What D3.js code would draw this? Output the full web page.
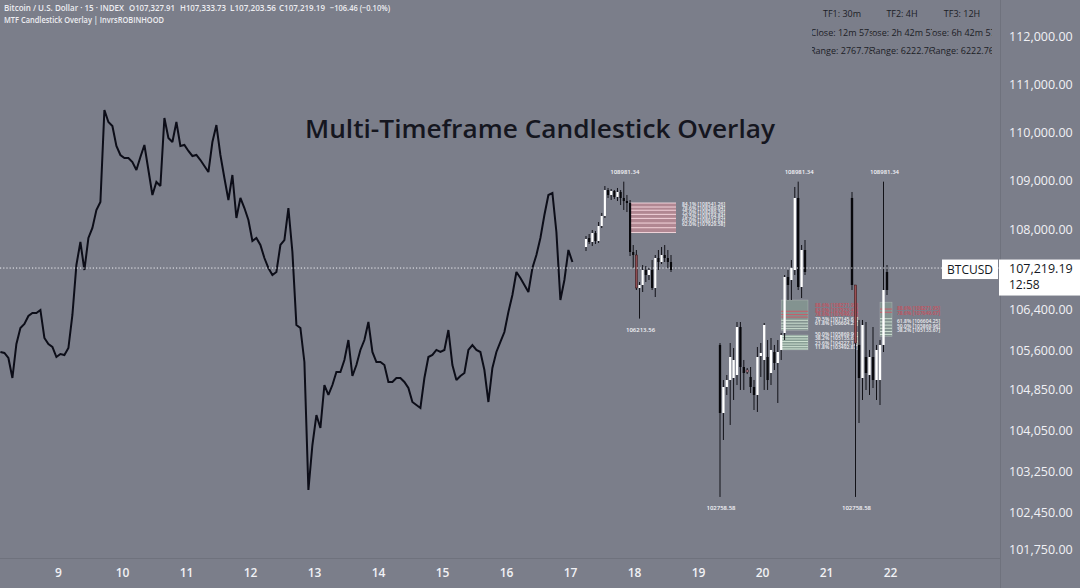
<!DOCTYPE html>
<html><head><meta charset="utf-8">
<script src="https://cdn.jsdelivr.net/npm/d3@7/dist/d3.min.js"></script>
<style>html,body{margin:0;padding:0;background:#7b7e8a;overflow:hidden}svg{display:block}</style>
</head><body><svg id="c" width="1080" height="588"></svg>
<script>
// ---------------- DATA ----------------
const dayTicks = [9,10,11,12,13,14,15,16,17,18,19,20,21,22];
const priceTicks = [112000,111000,110000,109000,108000,106400,105600,104850,104050,103250,102450,101750];
const lastPrice = 107219.19;
const symbol = "BTCUSD";
const countdown = "12:58";
const headerTitle = "Bitcoin / U.S. Dollar · 15 · INDEX";
const headerIndicator = "MTF Candlestick Overlay | InvrsROBINHOOD";
const ohlcLetters = ["O","H","L","C"];
const ohlcValues = [107327.91,107333.73,107203.56,107219.19];
const changeText = "−106.46 (−0.10%)";
const chartTitle = "Multi-Timeframe Candlestick Overlay";

// main 15m series, sampled every 1.5 h starting at day 8.1
const mainStartDay = 8.1, mainStepHours = 1.5;
const mainClose = [105567,105548,105451,105063,105722,106032,106109,106264,106322,106322,
106381,105838,105722,105664,105470,105528,105509,105644,106284,107280,
107740,107180,107820,108021,108394,108560,110466,110218,110135,109720,
109534,109472,109472,109389,109223,109492,109741,109223,108705,108974,
108891,110301,109886,109803,110218,109720,109741,109617,109513,109534,
109430,109306,109181,109803,110155,109534,109057,108601,109119,108228,
108643,108435,108187,107760,107820,107680,107420,107220,107080,107140,
107680,107780,108435,107540,106090,106032,105373,102893,103765,104346,
104094,104927,104734,104927,105179,105179,105412,105799,105102,105315,
105606,105799,106148,105567,105373,105373,105315,104986,104986,105063,
105063,104986,104869,104598,104540,104482,105063,105470,105509,105606,
105567,105606,105993,105315,105024,105102,105160,105606,105702,105606,
105567,105218,104598,105257,105567,105761,105954,106342,106680,107140,
107020,106880,106740,107220,107480,107820,108290,108705,108746,107940,
106580,106980,107580,107340];

// TF1 (30m) overlay candles
const tf1Open  = [107640,107820,107740,107920,107760,108062,108270,108808,108705,108788,108664,108767,108643,108580,108539,107540,107480,106820,106880,107180,107080,107180,106820,107420,107340,107480,107420,107340];
const tf1High  = [107860,107900,107980,107960,108145,108332,108891,108850,108829,108808,108850,108808,108981.34,108705,108601,107680,107580,106940,107280,107260,107220,107380,107480,107580,107640,107680,107580,107480];
const tf1Low   = [107560,107700,107660,107700,107720,108021,108228,108643,108601,108622,108580,108497,108394,108352,107460,107220,106780,106213.56,106740,106940,106980,106780,106640,107180,107300,107340,107220,107140];
const tf1Close = [107800,107740,107920,107760,108062,108270,108808,108705,108788,108664,108767,108643,108580,108539,107540,107480,106820,106880,107180,107080,107180,106820,107420,107340,107480,107420,107340,107180];

// TF2 (4H) overlay candles
const tf2Open  = [105703,104385,104889,105024,105063,105121,106051,105276,105218,105083,104889,104734,105489,105412,105470,105160,105567,105354,105606,105935,107040,106980,107180,108643,106840,107580];
const tf2High  = [105741,105024,105121,105741,105644,106148,106148,105412,105257,105276,105024,105664,105741,106129,105799,105838,105703,105799,105935,107080,107180,107380,108871,108981.34,107680,107780];
const tf2Low   = [102758.58,103862,104734,104153,104637,104927,104831,104831,105140,104772,104443,104405,105083,104831,104831,104927,105218,104579,105412,105799,106580,106580,107080,106780,106620,107080];
const tf2Close = [104385,104889,105024,105470,105412,106051,105276,105160,105179,104889,104734,105470,105548,106090,105024,105606,105354,105567,105896,107040,106880,107220,108643,106840,107580,107140];

// TF3 (12H) overlay candles
const tf3Open  = [108643,106880,105703,105063,105470,105121,105470,105024,105024,105703,107140];
const tf3High  = [108767,106880,106187,106187,106148,105606,106051,105703,105799,108981.34,107280];
const tf3Low   = [106780,102758.58,104191,104637,104831,104734,104869,104637,104540,105567,106680];
const tf3Close = [106880,105741,105063,106090,105160,105470,105024,105606,105703,106780,106780];

// table
const tfNames = ["30m","4H","12H"];
const tfCloseIn = ["12m 57s","2h 42m 57s","6h 42m 57s"];
const tfRange = [2767.78,6222.76,6222.76];

// fib zones (fraction of range above the low)
const tf1BoxLevels = [0.84,0.81,0.786,0.755,0.725,0.69,0.655,0.62];
const tf1LabelLevels = [0.841,0.786,0.75,0.705,0.65,0.62];
const tf2UpperBox = [0.614,0.519];
const tf2LowerBox = [0.504,0.458];
const tf2RedLines = [0.578,0.568,0.56];
const tf2GreenLines = [0.55,0.541,0.532,0.524,0.5,0.492,0.484,0.476,0.468,0.461];
const tf2LabelLevels = [0.886,0.83,0.786,0.705,0.618,0.5,0.382,0.236,0.118];
const tf3Box = [0.607,0.5];
const tf3RedLines = [0.585,0.575];
const tf3GreenLines = [0.555,0.545,0.535,0.525,0.515,0.506];
const tf3LabelLevels = [0.886,0.786,0.618,0.5,0.382];

// ---------------- DRAW ----------------
const svg = d3.select("#c");
const FONT = "'Open Sans','Noto Sans',sans-serif";
const PLOT_R = 1000, PLOT_B = 558;

svg.append("rect").attr("width",1080).attr("height",588).attr("fill","#7b7e8a");

const x = d3.scaleLinear().domain([9,22]).range([58,890]);
const y = d3.scaleLinear().domain([112000,108000,106400,101750]).range([36,229,309,549]);

const plot = svg.append("g");

// main series
const mainPts = mainClose.map((p,i)=>({t: mainStartDay + i*mainStepHours/24, p}));
plot.append("path").datum(mainPts)
  .attr("d", d3.line().x(d=>x(d.t)).y(d=>y(d.p)))
  .attr("fill","none").attr("stroke","#0c0d18").attr("stroke-width",2)
  .attr("stroke-linejoin","miter").attr("stroke-miterlimit",2);

// generic zone drawer
function zone(g, x0, x1, lo, rng, top, bot, fill, stroke){
  g.append("rect").attr("x",x0).attr("y",y(lo+top*rng))
    .attr("width",x1-x0).attr("height",y(lo+bot*rng)-y(lo+top*rng))
    .attr("fill",fill).attr("stroke",stroke||"none").attr("stroke-width",0.6);
}
function zlines(g, x0, x1, lo, rng, levels, color, w){
  g.selectAll(null).data(levels).join("line")
    .attr("x1",x0).attr("x2",x1)
    .attr("y1",d=>y(lo+d*rng)).attr("y2",d=>y(lo+d*rng))
    .attr("stroke",color).attr("stroke-width",w||0.9);
}
function zlabels(g, lx, y0, lo, rng, levels, redCount, gapAfter, gap, step){
  g.selectAll(null).data(levels).join("text")
    .attr("x",lx).attr("y",(d,i)=>y0 + i*step + (gapAfter!=null && i>gapAfter ? gap : 0))
    .attr("font-size",5).attr("font-family",FONT).attr("font-weight",600)
    .attr("fill",(d,i)=> i<redCount ? "#c94f5c" : "#eeeef2")
    .text(d=>`${(d*100).toFixed(1)}% [${(lo+d*rng).toFixed(2)}]`);
}

function candles(g, O,H,L,C, r, highlight, hlColor){
  const n = O.length;
  const xs = d3.scalePoint().domain(d3.range(n)).range(r);
  const bw = Math.max(1.6, xs.step()*0.68);
  g.selectAll(null).data(d3.range(n)).join("line")
    .attr("x1",i=>xs(i)).attr("x2",i=>xs(i))
    .attr("y1",i=>y(H[i])).attr("y2",i=>y(L[i]))
    .attr("stroke","#121218").attr("stroke-width",1);
  g.selectAll(null).data(d3.range(n)).join("rect")
    .attr("x",i=>xs(i)-bw/2).attr("width",bw)
    .attr("y",i=>Math.min(y(O[i]),y(C[i])))
    .attr("height",i=>Math.max(1,Math.abs(y(O[i])-y(C[i]))))
    .attr("fill",i=> highlight.includes(i) ? hlColor : (C[i]>=O[i] ? "#ffffff" : "#08080c"))
    .attr("stroke",i=> highlight.includes(i) ? "#2a1214" : "none").attr("stroke-width",0.5);
  const hi = d3.maxIndex(H), lo = d3.minIndex(L);
  g.append("text").attr("x",xs(hi)+1).attr("y",y(H[hi])-8).attr("text-anchor","middle")
    .attr("font-size",6).attr("font-family",FONT).attr("font-weight",600).attr("fill","#f4f4f8")
    .text(H[hi].toFixed(2));
  g.append("text").attr("x",xs(lo)+1).attr("y",y(L[lo])+13).attr("text-anchor","middle")
    .attr("font-size",6).attr("font-family",FONT).attr("font-weight",600).attr("fill","#f4f4f8")
    .text(L[lo].toFixed(2));
  return xs;
}

// TF1
{
  const g = plot.append("g");
  const r = [586,671];
  const xs = d3.scalePoint().domain(d3.range(tf1Open.length)).range(r);
  const lo = d3.min(tf1Low), rng = d3.max(tf1High)-lo;
  const x0 = xs(14), x1 = r[1]+5;
  zone(g,x0,x1,lo,rng,d3.max(tf1BoxLevels),d3.min(tf1BoxLevels),"rgba(210,140,152,0.62)");
  zlines(g,x0,x1,lo,rng,tf1BoxLevels,"rgba(255,226,232,0.95)",0.9);
  candles(g,tf1Open,tf1High,tf1Low,tf1Close,r,[16],"#8e4b50");
  zlabels(g,x1+6,y(lo+0.84*rng)+3,lo,rng,tf1LabelLevels,0,null,0,4);
}
// TF2
{
  const g = plot.append("g");
  const r = [720,805];
  const xs = d3.scalePoint().domain(d3.range(tf2Open.length)).range(r);
  const lo = d3.min(tf2Low), rng = d3.max(tf2High)-lo;
  const x0 = xs(18), x1 = r[1]+3;
  zone(g,x0,x1,lo,rng,tf2UpperBox[0],tf2UpperBox[1],"rgba(140,168,150,0.5)","rgba(235,240,235,0.35)");
  zone(g,x0,x1,lo,rng,tf2LowerBox[0],tf2LowerBox[1],"rgba(150,190,160,0.5)","rgba(235,240,235,0.35)");
  zlines(g,x0,x1,lo,rng,tf2RedLines,"rgba(214,80,96,0.9)",0.9);
  zlines(g,x0,x1,lo,rng,tf2GreenLines,"rgba(222,240,224,0.9)",0.9);
  candles(g,tf2Open,tf2High,tf2Low,tf2Close,r,[8],"#c48d9c");
  zlabels(g,x1+7,y(lo+tf2UpperBox[0]*rng)+7,lo,rng,tf2LabelLevels,3,4,6,4.5);
}
// TF3
{
  const g = plot.append("g");
  const r = [852,887];
  const xs = d3.scalePoint().domain(d3.range(tf3Open.length)).range(r);
  const lo = d3.min(tf3Low), rng = d3.max(tf3High)-lo;
  const x0 = xs(8), x1 = r[1]+5;
  zone(g,x0,x1,lo,rng,tf3Box[0],tf3Box[1],"rgba(140,168,150,0.5)","rgba(235,240,235,0.35)");
  zlines(g,x0,x1,lo,rng,tf3RedLines,"rgba(214,80,96,0.9)",0.9);
  zlines(g,x0,x1,lo,rng,tf3GreenLines,"rgba(222,240,224,0.9)",0.9);
  candles(g,tf3Open,tf3High,tf3Low,tf3Close,r,[1],"#9c4f53");
  zlabels(g,x1+5,y(lo+tf3Box[0]*rng)+8,lo,rng,tf3LabelLevels,2,1,3,4.8);
}

// current price dotted line
svg.append("line").attr("x1",0).attr("x2",PLOT_R).attr("y1",y(lastPrice)).attr("y2",y(lastPrice))
  .attr("stroke","#f2f2f6").attr("stroke-width",1).attr("stroke-dasharray","1.2,2");

// axis borders
svg.append("line").attr("x1",PLOT_R+0.5).attr("x2",PLOT_R+0.5).attr("y1",0).attr("y2",588)
  .attr("stroke","#6f727d").attr("stroke-width",1);
svg.append("line").attr("x1",0).attr("x2",PLOT_R).attr("y1",PLOT_B+0.5).attr("y2",PLOT_B+0.5)
  .attr("stroke","#6f727d").attr("stroke-width",1);

// y axis
const yAxis = svg.append("g").attr("transform",`translate(${PLOT_R+2},0)`)
  .call(d3.axisRight(y).tickValues(priceTicks).tickSize(0).tickPadding(7).tickFormat(d3.format(",.2f")));
yAxis.select(".domain").remove();
yAxis.selectAll("text").attr("font-size",12.5).attr("font-family",FONT).attr("font-weight",500).attr("fill","#f1f1f5");

// x axis
const xAxis = svg.append("g").attr("transform",`translate(0,${PLOT_B+4})`)
  .call(d3.axisBottom(x).tickValues(dayTicks).tickSize(0).tickPadding(6).tickFormat(d3.format("d")));
xAxis.select(".domain").remove();
xAxis.selectAll("text").attr("font-size",12).attr("font-family",FONT).attr("font-weight",600).attr("fill","#f1f1f5");

// last price label
const ly = y(lastPrice);
svg.append("rect").attr("x",PLOT_R-1).attr("y",ly-8.5).attr("width",82).attr("height",36).attr("fill","#ffffff");
svg.append("text").attr("x",PLOT_R+9).attr("y",ly+5).attr("font-size",12.5).attr("font-family",FONT)
  .attr("font-weight",500).attr("fill","#131722").text(d3.format(",.2f")(lastPrice));
svg.append("text").attr("x",PLOT_R+9).attr("y",ly+21).attr("font-size",12).attr("font-family",FONT)
  .attr("font-weight",500).attr("fill","#131722").text(countdown);
svg.append("rect").attr("x",942).attr("y",ly-8.5).attr("width",56).attr("height",19.5).attr("fill","#ffffff");
svg.append("text").attr("x",970).attr("y",ly+5.5).attr("text-anchor","middle").attr("font-size",12)
  .attr("font-family",FONT).attr("font-weight",500).attr("fill","#131722").text(symbol);

// title
svg.append("text").attr("x",305).attr("y",138).attr("font-size",25).attr("font-family",FONT)
  .attr("font-weight",600).attr("fill","#15161f")
  .attr("textLength",470).attr("lengthAdjust","spacingAndGlyphs").text(chartTitle);

// header
const hdr = svg.append("g").attr("font-family",FONT).attr("font-weight",600).attr("fill","#ededf1").attr("font-size",8.6);
hdr.append("text").attr("x",4).attr("y",11).attr("textLength",120).attr("lengthAdjust","spacingAndGlyphs").text(headerTitle);
const segX = [129,180,230,279];
ohlcValues.forEach((v,i)=>{
  hdr.append("text").attr("x",segX[i]).attr("y",11).attr("textLength",46).attr("lengthAdjust","spacingAndGlyphs")
    .text(ohlcLetters[i]+d3.format(",.2f")(v));
});
hdr.append("text").attr("x",330).attr("y",11).attr("textLength",60).attr("lengthAdjust","spacingAndGlyphs").text(changeText);
hdr.append("text").attr("x",4).attr("y",23).attr("textLength",160).attr("lengthAdjust","spacingAndGlyphs").text(headerIndicator);

// table
const defs = svg.append("defs");
const colC = [842,902,962], cellW = 60;
colC.forEach((cx,i)=>{
  defs.append("clipPath").attr("id","cell"+i).append("rect").attr("x",cx-cellW/2).attr("y",0).attr("width",cellW).attr("height",62);
});
const tbl = svg.append("g").attr("font-family",FONT).attr("font-size",9).attr("fill","#1b1d26").attr("font-weight",500);
tfNames.forEach((n,i)=>{
  const g = tbl.append("g").attr("clip-path",`url(#cell${i})`);
  g.append("text").attr("x",colC[i]).attr("y",17).attr("text-anchor","middle").text(`TF${i+1}: ${n}`);
  g.append("text").attr("x",colC[i]).attr("y",35.5).attr("text-anchor","middle").text(`Close: ${tfCloseIn[i]}`);
  g.append("text").attr("x",colC[i]).attr("y",54).attr("text-anchor","middle").text(`Range: ${tfRange[i].toFixed(2)}`);
});
</script></body></html>
